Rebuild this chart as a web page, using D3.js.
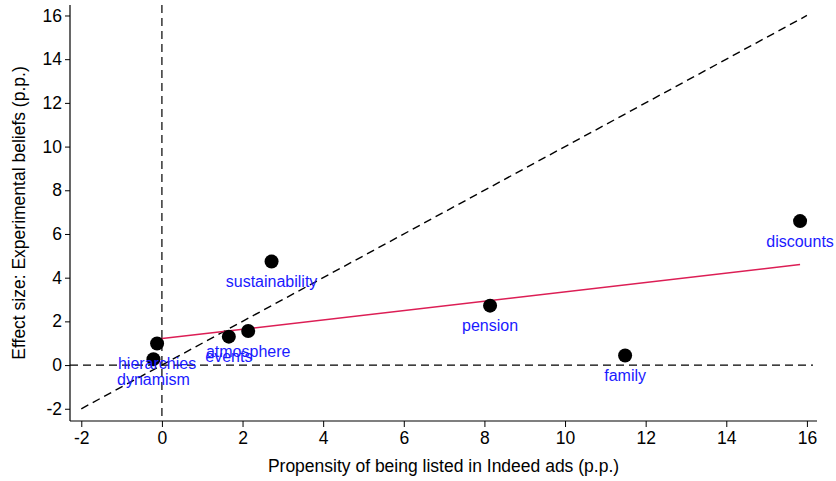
<!DOCTYPE html>
<html>
<head>
<meta charset="utf-8">
<script src="https://cdn.jsdelivr.net/npm/d3@7"></script>
<style>
  html, body { margin: 0; padding: 0; background: #fff; }
  svg { display: block; }
  text { font-family: Arial, "Liberation Sans", sans-serif; }
</style>
</head>
<body>
<svg id="chart" width="836" height="481"></svg>
<script>
// Job attributes: share listed in Indeed ads vs. experimental effect on beliefs
const attributes = ["discounts", "sustainability", "pension", "family", "events", "atmosphere", "hierarchies", "dynamism"];
const propensity = [15.83, 2.72, 8.14, 11.49, 1.66, 2.14, -0.12, -0.21];
const effectSize = [6.59, 4.74, 2.72, 0.44, 1.30, 1.56, 0.99, 0.27];

const xTicks = [-2, 0, 2, 4, 6, 8, 10, 12, 14, 16];
const yTicks = [-2, 0, 2, 4, 6, 8, 10, 12, 14, 16];
const xDomain = [-2.28, 16.25];
const yDomain = [-2.56, 16.48];
const diagonal = [-2, 16];          // 45-degree reference line
const zeroLineX = [-2.28, 16.15];   // extent of the y = 0 reference line

const xTitle = "Propensity of being listed in Indeed ads (p.p.)";
const yTitle = "Effect size: Experimental beliefs (p.p.)";

const points = attributes.map((name, i) => ({ name, x: propensity[i], y: effectSize[i] }));

const M = { left: 70, right: 817, top: 5, bottom: 421 };
const x = d3.scaleLinear().domain(xDomain).range([M.left, M.right]);
const y = d3.scaleLinear().domain(yDomain).range([M.bottom, M.top]);

const svg = d3.select("#chart");
const axisFont = 17.5;

// Ordinary least-squares fit over the plotted points
const mx = d3.mean(points, d => d.x), my = d3.mean(points, d => d.y);
const sxy = d3.sum(points, d => (d.x - mx) * (d.y - my));
const sxx = d3.sum(points, d => (d.x - mx) ** 2);
const slope = sxy / sxx, intercept = my - slope * mx;
const fitX = d3.extent(points, d => d.x);

// Axes (plain hyphen for negative numbers)
const fmt = d => String(d);
const xAxis = svg.append("g")
  .attr("transform", `translate(0,${M.bottom})`)
  .call(d3.axisBottom(x).tickValues(xTicks).tickFormat(fmt).tickSize(6).tickPadding(5).tickSizeOuter(0));
const yAxis = svg.append("g")
  .attr("transform", `translate(${M.left},0)`)
  .call(d3.axisLeft(y).tickValues(yTicks).tickFormat(fmt).tickSize(5).tickPadding(3).tickSizeOuter(0));

[xAxis, yAxis].forEach(g => {
  g.select(".domain").attr("stroke", "#000").attr("stroke-width", 1.2);
  g.selectAll(".tick line").attr("stroke", "#000").attr("stroke-width", 1);
  g.selectAll(".tick text").attr("fill", "#000").attr("font-size", axisFont)
    .attr("font-family", "Arial, 'Liberation Sans', sans-serif");
});
xAxis.select(".domain").attr("d", `M${M.left},0H${M.right}`);
yAxis.select(".domain").attr("d", `M0,${M.top}V${M.bottom}`);

// Reference lines
const dash = "8,5";
svg.append("line")
  .attr("x1", x(zeroLineX[0])).attr("x2", x(zeroLineX[1]))
  .attr("y1", y(0)).attr("y2", y(0))
  .attr("stroke", "#000").attr("stroke-width", 1.2).attr("stroke-dasharray", dash);
svg.append("line")
  .attr("x1", x(0)).attr("x2", x(0))
  .attr("y1", y(yDomain[1])).attr("y2", y(yDomain[0]))
  .attr("stroke", "#000").attr("stroke-width", 1.2).attr("stroke-dasharray", dash);
svg.append("line")
  .attr("x1", x(diagonal[0])).attr("y1", y(diagonal[0]))
  .attr("x2", x(diagonal[1])).attr("y2", y(diagonal[1]))
  .attr("stroke", "#000").attr("stroke-width", 1.4).attr("stroke-dasharray", dash);

// Fitted line
svg.append("line")
  .attr("x1", x(fitX[0])).attr("y1", y(intercept + slope * fitX[0]))
  .attr("x2", x(fitX[1])).attr("y2", y(intercept + slope * fitX[1]))
  .attr("stroke", "#dc1e55").attr("stroke-width", 1.5);

// Points
svg.append("g").selectAll("circle").data(points).join("circle")
  .attr("cx", d => x(d.x)).attr("cy", d => y(d.y)).attr("r", 7)
  .attr("fill", "#000");

// Point labels, centred below each marker
svg.append("g").selectAll("text").data(points).join("text")
  .attr("x", d => x(d.x)).attr("y", d => y(d.y) + 20)
  .attr("dy", "0.35em")
  .attr("text-anchor", "middle")
  .attr("font-size", 16)
  .attr("fill", "#1a1aff")
  .text(d => d.name);

// Axis titles
svg.append("text")
  .attr("x", (M.left + M.right) / 2).attr("y", 472)
  .attr("text-anchor", "middle").attr("font-size", axisFont).attr("fill", "#000")
  .text(xTitle);
svg.append("text")
  .attr("transform", `translate(25,${(M.top + M.bottom) / 2}) rotate(-90)`)
  .attr("text-anchor", "middle").attr("font-size", axisFont).attr("fill", "#000")
  .text(yTitle);
</script>
</body>
</html>
